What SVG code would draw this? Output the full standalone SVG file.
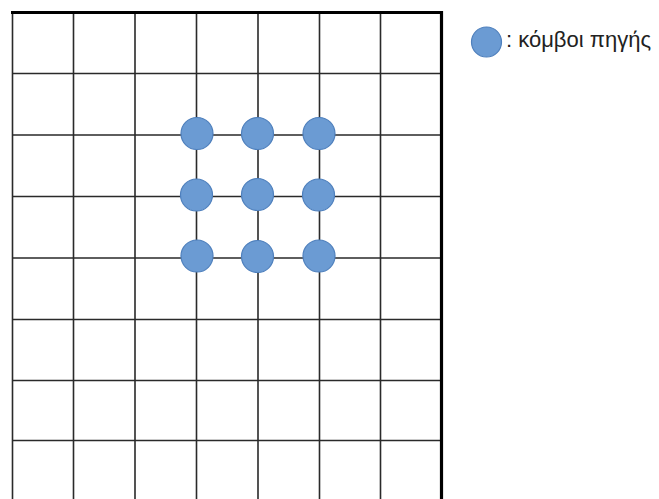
<svg xmlns="http://www.w3.org/2000/svg" width="659" height="499" viewBox="0 0 659 499">
<style>
.g{stroke:#2a2a2a;stroke-width:1.6;fill:none}
.b{stroke:#000;stroke-width:3.2;fill:none}
.n{fill:#6b9bd3;stroke:#4f80bd;stroke-width:1.2}
.t{font-family:"Liberation Sans",Arial,sans-serif;font-size:22px;fill:#222}
</style>
<rect width="659" height="499" fill="#fff"/>
<g id="grid">
<path class="g" d="M12.5,12V499M73.5,12V499M135,12V499M196.5,12V499M258,12V499M319.5,12V499M380.5,12V499"/>
<path class="g" d="M12,73.5H440M12,135H440M12,196.5H440M12,258H440M12,319.5H440M12,380.5H440M12,440.5H440"/>
<path class="b" d="M11,12.5H441.5V499"/>
</g>
<g id="connectors"></g>
<g id="n1"><circle class="n" cx="197" cy="133.5" r="16"/></g>
<g id="n2"><circle class="n" cx="257.5" cy="133.5" r="16"/></g>
<g id="n3"><circle class="n" cx="319" cy="133.5" r="16"/></g>
<g id="n4"><circle class="n" cx="196.5" cy="195" r="16"/></g>
<g id="n5"><circle class="n" cx="257.5" cy="194.5" r="16"/></g>
<g id="n6"><circle class="n" cx="318.5" cy="195" r="16"/></g>
<g id="n7"><circle class="n" cx="197" cy="256" r="16"/></g>
<g id="n8"><circle class="n" cx="257.5" cy="256.5" r="16"/></g>
<g id="n9"><circle class="n" cx="319" cy="256" r="16"/></g>
<g id="legend">
<circle class="n" cx="486.5" cy="42" r="15"/>
<text class="t" x="506" y="47">: κόμβοι πηγής</text>
</g>
</svg>
